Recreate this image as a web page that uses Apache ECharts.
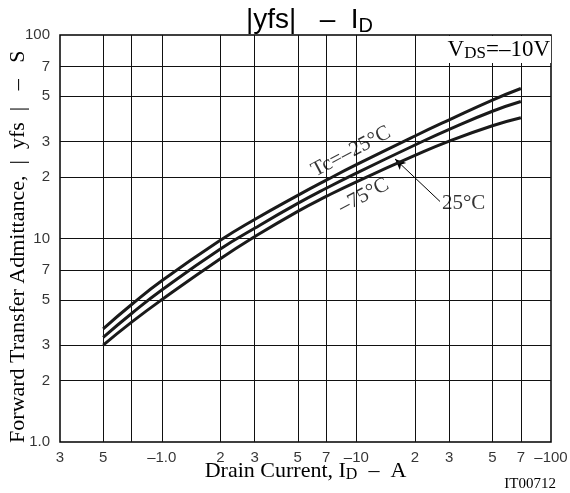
<!DOCTYPE html>
<html>
<head>
<meta charset="utf-8">
<script src="https://cdn.jsdelivr.net/npm/echarts@6/dist/echarts.min.js"></script>
<style>
  html, body { margin: 0; padding: 0; background: #fff; }
  #chart { width: 570px; height: 493px; }
</style>
</head>
<body>
<div id="chart"></div>
<script>
// drain current (A, absolute) and |yfs| (S) per case temperature
const current = [0.5, 0.7, 1, 2, 3, 5, 7, 10, 20, 30, 50, 70]
const yfsMinus25 = [3.60, 4.74, 6.2, 9.8, 12.4, 16.3, 19.35, 23.05, 31.9, 38.3, 47.9, 54.6]
const yfs25 = [3.27, 4.28, 5.58, 8.88, 11.23, 14.87, 17.65, 20.95, 28.8, 34.4, 42.2, 47.1]
const yfs75 = [2.99, 3.88, 5.0, 7.95, 10.2, 13.6, 16.1, 19.0, 25.6, 30.1, 35.8, 39.2]

// log grid and tick labels
const xTicks = [0.3, 0.5, 0.7, 1, 2, 3, 5, 7, 10, 20, 30, 50, 70, 100]
const xTickLabels = ['3', '5', '', '–1.0', '2', '3', '5', '7', '–10', '2', '3', '5', '7', '–100']
const yTicks = [1, 2, 3, 5, 7, 10, 20, 30, 50, 70, 100]
const yTickLabels = ['1.0', '2', '3', '5', '7', '10', '2', '3', '5', '7', '100']

const xMin = 0.3, xMax = 100, yMin = 1, yMax = 100
const serif = 'Liberation Serif'
const sans = 'Liberation Sans'

const pair = (xs, ys) => xs.map((x, i) => [x, ys[i]])

const chart = echarts.init(document.getElementById('chart'))

const gridLines = []
xTicks.slice(1, -1).forEach(x => {
  gridLines.push([{coord: [x, yMin]}, {coord: [x, yMax]}])
})
yTicks.slice(1, -1).forEach(y => {
  gridLines.push([{coord: [xMin, y]}, {coord: [xMax, y]}])
})

const curve = (name, ys) => ({
  name: name,
  type: 'line',
  data: pair(current, ys),
  smooth: 0.5,
  showSymbol: false,
  z: 5,
  lineStyle: {color: '#1a1a1a', width: 3},
  animation: false
})

chart.setOption({
  animation: false,
  title: [
    {
      text: '|yfs|   –  I{s|D}',
      left: 241,
      top: -1,
      textStyle: {
        fontFamily: sans, fontSize: 28, fontWeight: 'normal', color: '#000',
        rich: {s: {fontFamily: sans, fontSize: 20, padding: [12, 0, 0, 0]}}
      }
    },
    {
      text: 'V{s|DS}=–10V',
      right: 19,
      top: 35,
      padding: [2, 1, 1, 3],
      backgroundColor: '#fff',
      textStyle: {
        fontFamily: serif, fontSize: 23, fontWeight: 'normal', color: '#000',
        rich: {s: {fontFamily: serif, fontSize: 17, padding: [8, 0, 0, 0]}}
      }
    },
    {
      text: 'IT00712',
      right: 14,
      top: 477,
      padding: 0,
      textStyle: {fontFamily: serif, fontSize: 15, fontWeight: 'normal', color: '#000'}
    }
  ],
  grid: {
    left: 60, right: 19, top: 35, bottom: 51,
    outerBoundsMode: 'none',
    show: true, borderColor: '#000', borderWidth: 1.5, backgroundColor: 'transparent'
  },
  xAxis: {
    type: 'log', logBase: 10, min: xMin, max: xMax,
    axisLine: {show: false}, axisTick: {show: false}, axisLabel: {show: false},
    splitLine: {show: false}, minorSplitLine: {show: false},
    name: 'Drain Current, I{s|D}  –  A',
    nameLocation: 'middle', nameGap: 17,
    nameTextStyle: {
      fontFamily: serif, fontSize: 22, color: '#000',
      rich: {s: {fontFamily: serif, fontSize: 16, padding: [8, 0, 0, 0]}}
    }
  },
  yAxis: {
    type: 'log', logBase: 10, min: yMin, max: yMax,
    axisLine: {show: false}, axisTick: {show: false}, axisLabel: {show: false},
    splitLine: {show: false}, minorSplitLine: {show: false},
    name: 'Forward Transfer Admittance,  |  yfs  |   –   S   ',
    nameLocation: 'middle', nameGap: 31,
    nameTextStyle: {fontFamily: serif, fontSize: 22, color: '#000'}
  },
  series: [
    {
      name: 'grid',
      type: 'line',
      data: [],
      z: 1,
      silent: true,
      markLine: {
        silent: true,
        symbol: ['none', 'none'],
        label: {show: false},
        lineStyle: {color: '#111', width: 1, type: 'solid'},
        data: gridLines
      }
    },
    {
      name: 'xTicks',
      type: 'scatter',
      data: xTicks.map(x => [x, yMin]),
      symbolSize: 0,
      clip: false,
      silent: true,
      label: {
        show: true, position: 'bottom', distance: 8,
        fontFamily: sans, fontSize: 15, color: '#000',
        formatter: p => xTickLabels[p.dataIndex]
      }
    },
    {
      name: 'yTicks',
      type: 'scatter',
      data: yTicks.map(y => [xMin, y]),
      symbolSize: 0,
      clip: false,
      silent: true,
      label: {
        show: true, position: 'left', distance: 10,
        fontFamily: sans, fontSize: 15, color: '#000',
        formatter: p => yTickLabels[p.dataIndex]
      }
    },
    curve('Tc=-25°C', yfsMinus25),
    curve('Tc=25°C', yfs25),
    curve('Tc=75°C', yfs75),
    {
      name: 'notes',
      type: 'scatter',
      symbolSize: 0,
      clip: false,
      silent: true,
      z: 6,
      label: {show: true, position: 'inside', fontFamily: serif, fontSize: 21, color: '#000'},
      data: [
        {value: [9.4, 26.7], label: {formatter: 'Tc=–25°C', rotate: 28}},
        {value: [10.9, 16.2], label: {formatter: '–75°C', rotate: 28}},
        {value: [27.5, 14.8], label: {formatter: '25°C', position: 'right', distance: 0}}
      ],
      markLine: {
        silent: true,
        symbol: ['none', 'arrow'],
        symbolSize: [7, 11],
        label: {show: false},
        lineStyle: {color: '#000', width: 1, type: 'solid'},
        data: [[{coord: [26.9, 15.2]}, {coord: [15.8, 24.6]}]]
      }
    }
  ]
})
</script>
</body>
</html>
